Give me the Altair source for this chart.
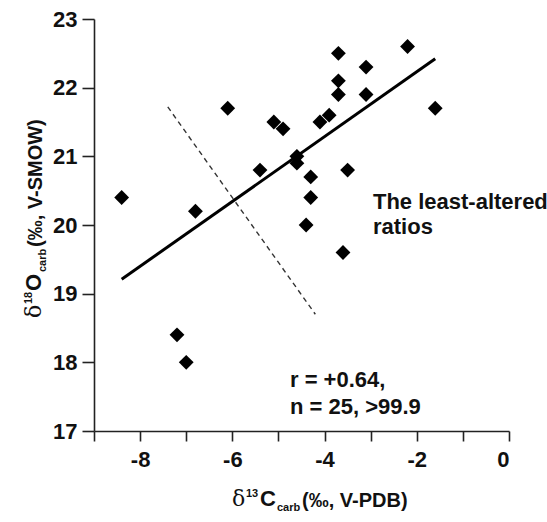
import altair as alt
import pandas as pd

# data
d13c = [-6.1, -8.4, -6.8, -5.4, -5.1, -3.7, -2.2, -3.1, -3.7, -3.7, -3.1, -1.6,
        -3.9, -4.1, -4.9, -4.6, -4.6, -4.3, -3.5, -4.3, -4.4, -3.6, -7.2, -7.0]
d18o = [21.7, 20.4, 20.2, 20.8, 21.5, 22.5, 22.6, 22.3, 22.1, 21.9, 21.9, 21.7,
        21.6, 21.5, 21.4, 21.0, 20.9, 20.7, 20.8, 20.4, 20.0, 19.6, 18.4, 18.0]
fit_x = [-8.4, -1.6]
fit_y = [19.21, 22.42]
cut_x = [-7.4, -4.2]
cut_y = [21.72, 18.7]
x_ticks = list(range(-9, 1))
y_ticks = [17 + 0.5 * i for i in range(13)]

FONT = "Liberation Sans Narrow, Arial Narrow, Liberation Sans, Arial, sans-serif"
SERIF = "DejaVu Serif, Liberation Serif, serif"

pts = pd.DataFrame({"x": d13c, "y": d18o})
fit = pd.DataFrame({"x": fit_x, "y": fit_y})
cut = pd.DataFrame({"x": cut_x, "y": cut_y})

xs = alt.Scale(domain=[-9, 0], nice=False, zero=False)
ys = alt.Scale(domain=[17, 23], nice=False, zero=False)

xax = alt.Axis(values=x_ticks, labelExpr="datum.value % 2 == 0 ? '' + datum.value : ''",
               title=None, grid=False, tickSize=10, labelPadding=8,
               labelFont=FONT, labelFontSize=22, labelFontWeight="bold", labelColor="#111",
               domainColor="#222", tickColor="#222", domainWidth=1.6, tickWidth=1.6)
yax = alt.Axis(values=y_ticks, labelExpr="datum.value % 1 == 0 ? '' + datum.value : ''",
               title=None, grid=False, tickSize=12, labelPadding=5,
               labelFont=FONT, labelFontSize=22, labelFontWeight="bold", labelColor="#111",
               domainColor="#222", tickColor="#222", domainWidth=1.6, tickWidth=1.6)

points = alt.Chart(pts).mark_point(shape="diamond", filled=True, size=220,
                                   color="black", opacity=1).encode(
    x=alt.X("x:Q", scale=xs, axis=xax),
    y=alt.Y("y:Q", scale=ys, axis=yax),
)
fit_line = alt.Chart(fit).mark_line(color="black", strokeWidth=3).encode(
    x=alt.X("x:Q", scale=xs), y=alt.Y("y:Q", scale=ys))
cut_line = alt.Chart(cut).mark_line(color="#333", strokeWidth=1.4, strokeDash=[5, 4]).encode(
    x=alt.X("x:Q", scale=xs), y=alt.Y("y:Q", scale=ys))

ann_text = ["The least-altered", "ratios", "r = +0.64,", "n = 25, >99.9"]
ann_x = [-2.95, -2.95, -4.75, -4.75]
ann_y = [20.23, 19.87, 17.64, 17.25]
ann = alt.Chart(pd.DataFrame({"t": ann_text, "x": ann_x, "y": ann_y})).mark_text(
    align="left", baseline="alphabetic", font=FONT, fontSize=22, fontWeight="bold",
    color="#111").encode(
    x=alt.X("x:Q", scale=xs), y=alt.Y("y:Q", scale=ys), text="t:N")


def piece(txt, px, py, size, font=FONT, weight="bold", angle=0, baseline="alphabetic"):
    return alt.Chart(pd.DataFrame({"t": [txt]})).mark_text(
        align="left", baseline=baseline, font=font, fontSize=size, fontWeight=weight,
        angle=angle, color="#111").encode(
        x=alt.value(px), y=alt.value(py), text="t:N")


# x-axis title pieces (pixel positions relative to plot area)
bx, by = 138, 487
xtitle = [
    piece("δ", bx, by, 22, font=SERIF, weight="normal"),
    piece("13", bx + 14, by - 9, 11),
    piece("C", bx + 28, by, 22),
    piece("carb", bx + 45, by + 5, 11),
    piece("(‰, V-PDB)", bx + 70, by + 1, 20),
]
# y-axis title pieces (rotated)
tx, ty = -53, 318 - 19
ytitle = [
    piece("δ", tx, ty, 22, font=SERIF, weight="normal", angle=270),
    piece("18", tx - 9, ty - 14, 11, angle=270),
    piece("O", tx, ty - 27, 22, angle=270),
    piece("carb", tx + 5, ty - 46, 11, angle=270),
    piece("(‰, V-SMOW)", tx + 1, ty - 71, 20, angle=270),
]

chart = alt.layer(cut_line, fit_line, points, ann, *xtitle, *ytitle).properties(
    width=415, height=412,
    autosize=alt.AutoSizeParams(type="none"),
    padding={"left": 94, "top": 19, "right": 38, "bottom": 91},
    background="white",
).configure_view(stroke=None)

chart.save("out.html", embed_options={"renderer": "svg", "actions": False})
